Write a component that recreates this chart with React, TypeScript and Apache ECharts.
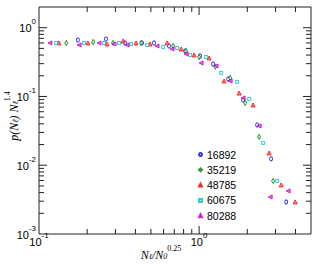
import React, { useEffect, useRef } from "react";
import * as echarts from "echarts";

const seriesNames = ["16892", "35219", "48785", "60675", "80288"];

const x16892 = [0.175, 0.262, 0.345, 0.44, 0.523, 0.649, 0.818, 1.014, 1.223, 1.518, 1.884, 2.304, 2.818, 3.5];
const y16892 = [0.663, 0.685, 0.6, 0.6, 0.6, 0.542, 0.458, 0.388, 0.297, 0.18, 0.089, 0.0385, 0.0124, 0.00293];

const x35219 = [0.148, 0.218, 0.29, 0.434, 0.688, 0.829, 1.0, 1.26, 1.563, 1.939, 2.371, 2.9];
const y35219 = [0.6, 0.62, 0.6, 0.6, 0.542, 0.458, 0.375, 0.272, 0.186, 0.0805, 0.0258, 0.00592];

const x48785 = [0.133, 0.202, 0.266, 0.335, 0.404, 0.494, 0.631, 0.772, 0.931, 1.155, 1.433, 1.778, 2.175, 2.738, 3.255, 3.98];
const y48785 = [0.6, 0.6, 0.58, 0.641, 0.6, 0.58, 0.6, 0.49, 0.401, 0.363, 0.168, 0.112, 0.0752, 0.0151, 0.00518, 0.00293];

const x60675 = [0.128, 0.191, 0.255, 0.316, 0.376, 0.473, 0.596, 0.729, 0.879, 1.106, 1.373, 1.728, 2.054, 2.512, 3.073];
const y60675 = [0.6, 0.6, 0.6, 0.6, 0.58, 0.561, 0.524, 0.507, 0.401, 0.375, 0.22, 0.163, 0.092, 0.0211, 0.00592];

const x80288 = [0.117, 0.178, 0.237, 0.294, 0.355, 0.546, 0.678, 0.829, 1.029, 1.276, 1.563, 1.884, 2.371, 2.78, 3.6];
const y80288 = [0.6, 0.561, 0.6, 0.58, 0.561, 0.542, 0.49, 0.415, 0.307, 0.278, 0.168, 0.095, 0.0373, 0.00346, 0.00423];

const X_MIN = 0.1;
const X_MAX = 5;
const Y_MIN = 0.001;
const Y_MAX = 2;

const xMinorTicks = [0.2, 0.3, 0.4, 0.5, 0.6, 0.7, 0.8, 0.9, 2, 3, 4];
const xMajorTicks = [1];
const yMinorTicks = [
  0.002, 0.003, 0.004, 0.005, 0.006, 0.007, 0.008, 0.009,
  0.02, 0.03, 0.04, 0.05, 0.06, 0.07, 0.08, 0.09,
  0.2, 0.3, 0.4, 0.5, 0.6, 0.7, 0.8, 0.9,
];
const yMajorTicks = [0.01, 0.1, 1];

const FRAME = "#222";

const zip = (xs: number[], ys: number[]) => xs.map((x, i) => [x, ys[i]]);

const powLabel = (v: number) => {
  const e = Math.round(Math.log10(v));
  if (Math.abs(v - Math.pow(10, e)) / v > 1e-6) return "";
  return `{b|10}{s|${e}}`;
};

const labelRich = {
  b: { fontSize: 11, fontFamily: "Liberation Sans", color: "#000", lineHeight: 12, verticalAlign: "bottom" },
  s: { fontSize: 8, fontFamily: "Liberation Sans", color: "#000", lineHeight: 8, padding: [0, 0, 8, 0], verticalAlign: "bottom" },
};

const mathRich = {
  i: { fontSize: 12, fontStyle: "italic", fontFamily: "Liberation Serif", color: "#222", lineHeight: 13, verticalAlign: "bottom" },
  sub: { fontSize: 8, fontStyle: "italic", fontFamily: "Liberation Serif", color: "#222", lineHeight: 9, verticalAlign: "bottom" },
  sup: { fontSize: 8, fontFamily: "Liberation Serif", color: "#222", lineHeight: 8, padding: [0, 0, 8, 0], verticalAlign: "bottom" },
};

export default function App() {
  const ref = useRef<HTMLDivElement>(null);
  useEffect(() => {
    if (!ref.current) return;
    const chart = echarts.init(ref.current, null, { renderer: "svg" });

    const tickData = [
      ...xMinorTicks.map((v) => [v, Y_MIN, 0, 0]),
      ...xMajorTicks.map((v) => [v, Y_MIN, 0, 1]),
      ...yMinorTicks.map((v) => [X_MIN, v, 1, 0]),
      ...yMajorTicks.map((v) => [X_MIN, v, 1, 1]),
    ];

    const open = (c: string) => ({ color: "#fff", borderColor: c, borderWidth: 1 });

    chart.setOption({
      animation: false,
      grid: {
        left: 39,
        right: 3,
        top: 7,
        bottom: 31,
        show: true,
        borderColor: FRAME,
        borderWidth: 1,
        backgroundColor: "transparent",
      },
      xAxis: {
        type: "log",
        logBase: 10,
        min: X_MIN,
        max: X_MAX,
        interval: 1,
        axisLine: { show: false },
        axisTick: { show: false },
        splitLine: { show: false },
        axisLabel: { formatter: powLabel, margin: 1, rich: labelRich, showMaxLabel: false },
      },
      yAxis: {
        type: "log",
        logBase: 10,
        min: Y_MIN,
        max: Y_MAX,
        interval: 1,
        axisLine: { show: false },
        axisTick: { show: false },
        splitLine: { show: false },
        axisLabel: { formatter: powLabel, margin: 3, rich: labelRich, showMaxLabel: false },
      },
      legend: {
        data: seriesNames,
        orient: "vertical",
        left: 193,
        top: 144,
        itemWidth: 3,
        itemHeight: 3,
        itemGap: 4.3,
        textStyle: { fontSize: 10.5, fontFamily: "Liberation Sans", color: "#000", lineHeight: 10 },
      },
      graphic: [
        {
          type: "text",
          x: 161,
          y: 254,
          style: {
            text: "{i|N}{sub|ℓ}{i|/N}{sub|0}{sup|0.25}",
            align: "center",
            verticalAlign: "middle",
            rich: mathRich,
          },
        },
        {
          type: "text",
          x: 13,
          y: 116,
          rotation: Math.PI / 2,
          style: {
            text: "{i|p(N}{sub|ℓ}{i|) N}{sub|ℓ}{sup|1.4}",
            align: "center",
            verticalAlign: "middle",
            rich: mathRich,
          },
        },
      ],
      series: [
        {
          type: "custom",
          name: "ticks",
          silent: true,
          coordinateSystem: "cartesian2d",
          encode: { x: 0, y: 1 },
          data: tickData,
          renderItem: (_params: any, api: any) => {
            const kind = api.value(2);
            const len = api.value(3) ? 8 : 5;
            const st = { stroke: FRAME, lineWidth: 1 };
            if (kind === 0) {
              const v = api.value(0);
              const b = api.coord([v, Y_MIN]);
              const t = api.coord([v, Y_MAX]);
              return {
                type: "group",
                children: [
                  { type: "line", shape: { x1: b[0], y1: b[1], x2: b[0], y2: b[1] - len }, style: st },
                  { type: "line", shape: { x1: t[0], y1: t[1], x2: t[0], y2: t[1] + len }, style: st },
                ],
              };
            }
            const v = api.value(1);
            const l = api.coord([X_MIN, v]);
            const r = api.coord([X_MAX, v]);
            return {
              type: "group",
              children: [
                { type: "line", shape: { x1: l[0], y1: l[1], x2: l[0] + len, y2: l[1] }, style: st },
                { type: "line", shape: { x1: r[0], y1: r[1], x2: r[0] - len, y2: r[1] }, style: st },
              ],
            };
          },
        },
        {
          type: "scatter",
          name: "16892",
          data: zip(x16892, y16892),
          symbol: "circle",
          symbolSize: [3, 4],
          itemStyle: open("#0000ff"),
        },
        {
          type: "scatter",
          name: "35219",
          data: zip(x35219, y35219),
          symbol: "diamond",
          symbolSize: [3, 5],
          itemStyle: open("#008000"),
        },
        {
          type: "scatter",
          name: "48785",
          data: zip(x48785, y48785),
          symbol: "triangle",
          symbolSize: [4, 4],
          itemStyle: { color: "#ff7070", borderColor: "#ff0000", borderWidth: 1 },
        },
        {
          type: "scatter",
          name: "60675",
          data: zip(x60675, y60675),
          symbol: "rect",
          symbolSize: 3,
          itemStyle: open("#00c0c0"),
        },
        {
          type: "scatter",
          name: "80288",
          data: zip(x80288, y80288),
          symbol: "triangle",
          symbolRotate: 90,
          symbolSize: [4, 4],
          itemStyle: { color: "#dd55dd", borderColor: "#c000c0", borderWidth: 1 },
        },
      ],
    });
    return () => chart.dispose();
  }, []);

  return <div ref={ref} style={{ position: "absolute", left: 0, top: 0, width: 314, height: 265 }} />;
}
